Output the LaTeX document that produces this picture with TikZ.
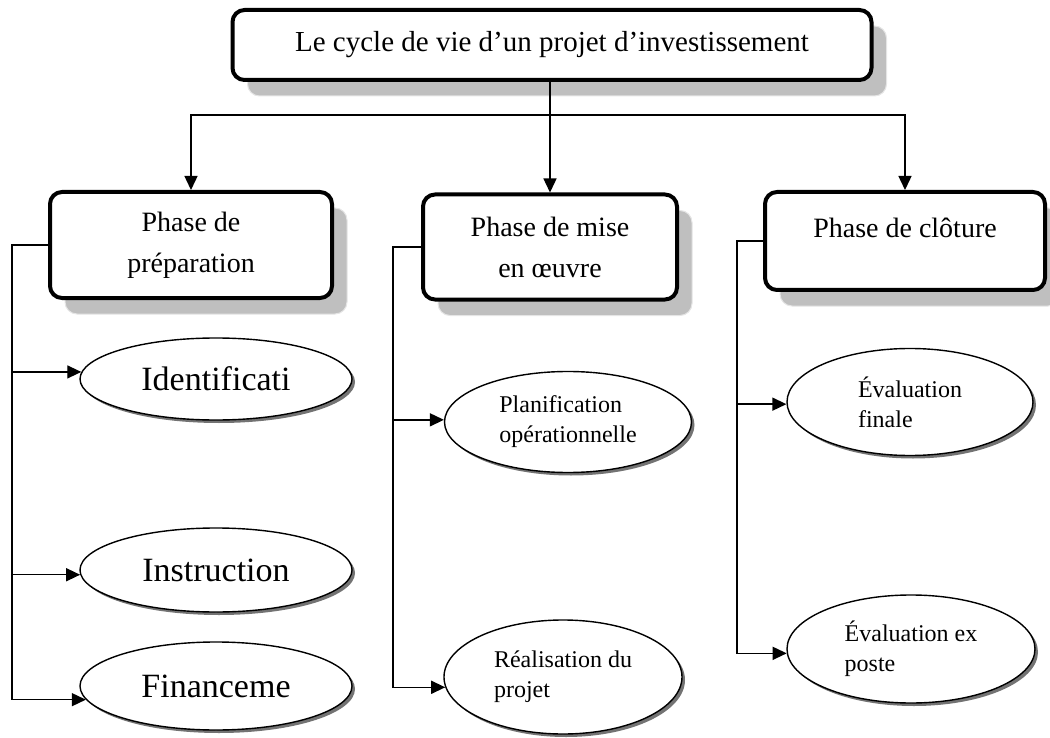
\documentclass[tikz,border=0pt]{standalone}
\usepackage{fontspec}
\setmainfont{Liberation Serif}
\usetikzlibrary{shapes.geometric,shadows,arrows.meta}
\begin{document}
\begin{tikzpicture}[x=1pt,y=-1pt,
  conn/.style={line width=1.4pt},
  arr/.style={conn,-{Triangle[length=14pt,width=13pt]}},
  boxbase/.style={draw,line width=4pt,rounded corners=12pt,fill=white,
    drop shadow={shadow xshift=15pt,shadow yshift=-16pt,fill=black!25,draw=black!10,line width=1pt,opacity=1}},
  topbox/.style={boxbase,font=\fontsize{29}{34}\selectfont},
  phase/.style={boxbase,align=center,font=\fontsize{28}{41}\selectfont},
  ell/.style={draw,ellipse,line width=1.4pt,fill=white,inner sep=0pt,
    drop shadow={shadow xshift=3pt,shadow yshift=-3pt,fill=black!55,opacity=1}},
  bigtext/.style={font=\fontsize{34}{40}\selectfont},
  smalltext/.style={align=left,font=\fontsize{24}{30}\selectfont}
]
\useasboundingbox (0,0) rectangle (1050,738);

\node[topbox,minimum width=639pt,minimum height=70pt] (T) at (552,45) {Le cycle de vie d’un projet d’investissement};

\node[phase,minimum width=282pt,minimum height=106pt] (P1) at (191,245) {Phase de\\préparation};
\node[phase,minimum width=254pt,minimum height=105pt] (P2) at (550,247) {Phase de mise\\en œuvre};
\node[phase,minimum width=280pt,minimum height=98pt] (P3) at (905,241) {Phase de clôture\\[-14pt]\mbox{}};

\node[ell,bigtext,minimum width=272pt,minimum height=82pt] (E1) at (216,379) {Identificati};
\node[ell,bigtext,minimum width=272pt,minimum height=84pt] (E2) at (216,570) {Instruction};
\node[ell,bigtext,minimum width=272pt,minimum height=88pt] (E3) at (216,686) {Financeme};

\node[ell,smalltext,minimum width=247pt,minimum height=101pt] (M1) at (568,422) {Planification\\opérationnelle};
\node[ell,smalltext,minimum width=238pt,minimum height=114pt] (M2) at (563,677) {Réalisation du\\projet};

\node[ell,smalltext,minimum width=246pt,minimum height=107pt] (R1) at (910,402) {Évaluation\\finale};
\node[ell,smalltext,minimum width=248pt,minimum height=108pt] (R2) at (911,649) {Évaluation ex\\poste};

% top connectors
\coordinate (h) at (550,115);
\draw[arr] (T.south -| P2.north) -- (P2.north);
\draw[arr] (h) -| (P1.north);
\draw[arr] (h) -| (P3.north);

% left bracket
\coordinate (bx1) at (12,0);
\draw[arr] (P1.west) -| (bx1 |- E3.186) -- (E3.186);
\draw[arr] (bx1 |- E1.177) -- (E1.177);
\draw[arr] (bx1 |- E2.182) -- (E2.182);

% middle bracket
\coordinate (bx2) at (393,0);
\draw[arr] (P2.west) -| (bx2 |- M2.185) -- (M2.185);
\draw[arr] (bx2 |- M1.179) -- (M1.179);

% right bracket
\coordinate (bx3) at (737,0);
\draw[arr] (P3.west) -| (bx3 |- R2.182) -- (R2.182);
\draw[arr] (bx3 |- R1.181) -- (R1.181);
\end{tikzpicture}
\end{document}
